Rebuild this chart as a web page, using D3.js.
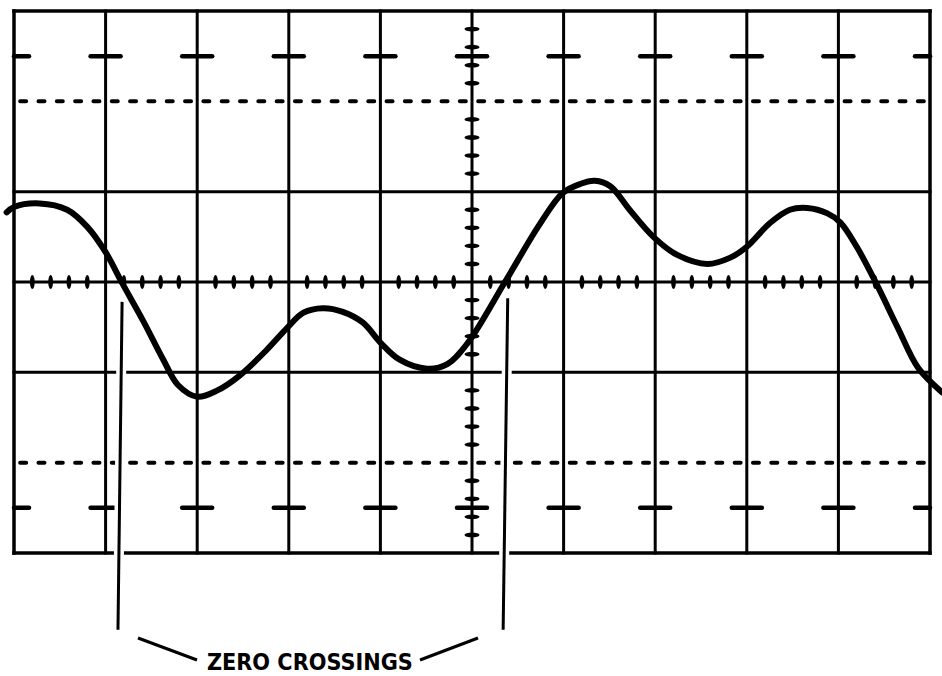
<!DOCTYPE html>
<html>
<head>
<meta charset="utf-8">
<script src="https://cdn.jsdelivr.net/npm/d3@7"></script>
<style>
  html, body { margin: 0; padding: 0; background: #fff; }
  svg { display: block; }
</style>
</head>
<body>
<svg id="scope" width="942" height="676"></svg>
<script>
// Graticule layout: 10 horizontal by 6 vertical divisions
const colDivs = [0, 1, 2, 3, 4, 5, 6, 7, 8, 9, 10];
const solidRows = [-3, -1, 0, 1, 3];
const dashedRows = [-2, 2];
const markerRows = [-2.5, 2.5];

// Displayed trace, in graticule divisions
const traceX = [-0.08, 0.00, 0.28, 0.58, 0.80, 1.00, 1.18, 1.41, 1.63, 1.79, 2.00, 2.22, 2.47, 2.76,
                2.98, 3.16, 3.37, 3.59, 3.81, 4.00, 4.21, 4.51, 4.73, 4.95, 5.36, 5.74,
                5.99, 6.18, 6.34, 6.51, 6.72, 6.98, 7.24, 7.57, 7.82, 8.00, 8.25, 8.47, 8.66, 8.88,
                9.02, 9.20, 9.42, 9.65, 9.87, 10.13];
const traceY = [0.77, 0.83, 0.87, 0.80, 0.61, 0.33, -0.01, -0.43, -0.86, -1.14, -1.27, -1.20, -1.03, -0.75,
                -0.51, -0.34, -0.29, -0.33, -0.45, -0.67, -0.86, -0.96, -0.91, -0.68, 0.00, 0.64,
                0.985, 1.085, 1.12, 1.06, 0.80, 0.50, 0.30, 0.20, 0.27, 0.39, 0.65, 0.80, 0.82, 0.76,
                0.66, 0.39, -0.03, -0.51, -0.95, -1.22];

// Zero crossings called out below the screen (top and bottom ends of each pointer, in divisions)
const crossingTopX = [1.18, 5.39];
const crossingBottomX = [1.135, 5.34];
const pointerTopY = [-0.22, -0.18];
const pointerBottomY = -3.85;
const calloutLabel = "ZERO CROSSINGS";

const svg = d3.select("#scope");
const x = d3.scaleLinear().domain([0, 10]).range([14, 930]);
const y = d3.scaleLinear().domain([-3, 3]).range([553, 11]);

const ink = "#000";
const grid = svg.append("g").attr("stroke", ink).attr("fill", "none");

// Solid horizontal rules and border rows
grid.selectAll("line.row").data(solidRows).join("line")
  .attr("class", "row")
  .attr("x1", x(0)).attr("x2", x(10))
  .attr("y1", d => y(d)).attr("y2", d => y(d))
  .attr("stroke-width", d => Math.abs(d) === 3 ? 3.5 : 3)
  .attr("stroke-linecap", "square");

// Vertical rules
grid.selectAll("line.col").data(colDivs).join("line")
  .attr("class", "col")
  .attr("x1", d => x(d)).attr("x2", d => x(d))
  .attr("y1", y(3)).attr("y2", y(-3))
  .attr("stroke-width", d => (d === 0 || d === 10) ? 3.5 : 3)
  .attr("stroke-linecap", "square");

// Dashed rows at +/-2 divisions, one dash per minor division
const minorPx = x(0.2) - x(0);
grid.selectAll("line.dash").data(dashedRows).join("line")
  .attr("class", "dash")
  .attr("x1", x(0) + 4).attr("x2", x(10) - 4)
  .attr("y1", d => y(d)).attr("y2", d => y(d))
  .attr("stroke-width", 4)
  .attr("stroke-linecap", "round")
  .attr("stroke-dasharray", `6,${(minorPx - 6).toFixed(2)}`)
  .attr("stroke-dashoffset", -(minorPx / 2 - 3 - 4));

// Long markers at +/-2.5 divisions on every vertical rule
const markerData = [];
colDivs.forEach(c => markerRows.forEach(r => markerData.push({ c, r })));
const halfMark = 15;
grid.selectAll("line.mark").data(markerData).join("line")
  .attr("class", "mark")
  .attr("x1", d => d.c === 0 ? x(d.c) : x(d.c) - halfMark)
  .attr("x2", d => d.c === 10 ? x(d.c) : x(d.c) + halfMark)
  .attr("y1", d => y(d.r)).attr("y2", d => y(d.r))
  .attr("stroke-width", 4.5)
  .attr("stroke-linecap", "round");

// Minor ticks on the centre axes (every 0.2 division)
const minorX = d3.range(1, 50).filter(k => k % 5 !== 0).map(k => k * 0.2);
const minorY = d3.range(1, 30).filter(k => k % 5 !== 0).map(k => -3 + k * 0.2);

svg.append("g").selectAll("ellipse").data(minorX).join("ellipse")
  .attr("cx", d => x(d)).attr("cy", y(0))
  .attr("rx", 2.4).attr("ry", 7)
  .attr("fill", ink);

svg.append("g").selectAll("ellipse").data(minorY).join("ellipse")
  .attr("cx", x(5)).attr("cy", d => y(d))
  .attr("rx", 7.5).attr("ry", 2.4)
  .attr("fill", ink);

// Pointers from the zero crossings down to the callout
const pointers = crossingTopX.map((t, i) => ({ x1: t, y1: pointerTopY[i], x2: crossingBottomX[i], y2: pointerBottomY }));
const pg = svg.append("g");
pg.selectAll("line.halo").data(pointers).join("line")
  .attr("class", "halo")
  .attr("x1", d => x(d.x1)).attr("y1", d => y(d.y1))
  .attr("x2", d => x(d.x2)).attr("y2", d => y(d.y2))
  .attr("stroke", "#fff").attr("stroke-width", 10);
pg.selectAll("line.ptr").data(pointers).join("line")
  .attr("class", "ptr")
  .attr("x1", d => x(d.x1)).attr("y1", d => y(d.y1))
  .attr("x2", d => x(d.x2)).attr("y2", d => y(d.y2))
  .attr("stroke", ink).attr("stroke-width", 3);

// Callout label with bracket arms
const labelX = x((crossingTopX[0] + crossingTopX[1]) / 2) - 5;
const labelY = 670;
svg.append("text")
  .attr("x", labelX).attr("y", labelY)
  .attr("text-anchor", "middle")
  .attr("font-family", "DejaVu Sans, Liberation Sans, sans-serif")
  .attr("font-weight", "bold")
  .attr("font-size", 23)
  .attr("textLength", 206)
  .attr("lengthAdjust", "spacingAndGlyphs")
  .text(calloutLabel);

const arms = [
  { x1: 138, y1: 638, x2: 197, y2: 660 },
  { x1: 420, y1: 660, x2: 478, y2: 638 }
];
svg.append("g").selectAll("line").data(arms).join("line")
  .attr("x1", d => d.x1).attr("y1", d => d.y1)
  .attr("x2", d => d.x2).attr("y2", d => d.y2)
  .attr("stroke", ink).attr("stroke-width", 3);

// Trace
const pts = traceX.map((v, i) => [v, traceY[i]]);
const line = d3.line()
  .x(d => x(d[0])).y(d => y(d[1]))
  .curve(d3.curveCatmullRom.alpha(0.5));
svg.append("path")
  .attr("d", line(pts))
  .attr("fill", "none")
  .attr("stroke", ink)
  .attr("stroke-width", 6)
  .attr("stroke-linecap", "round")
  .attr("stroke-linejoin", "round");
</script>
</body>
</html>
